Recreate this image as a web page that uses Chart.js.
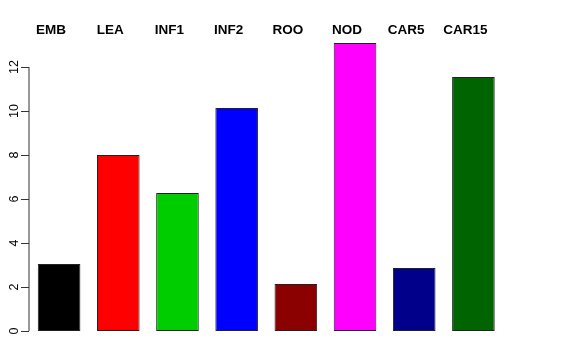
<!DOCTYPE html>
<html>
<head>
<meta charset="utf-8">
<script src="https://cdn.jsdelivr.net/npm/chart.js@4/dist/chart.umd.min.js"></script>
<style>
  html, body { margin: 0; padding: 0; background: #fff; }
  canvas { display: block; }
</style>
</head>
<body>
<canvas id="bars" width="576" height="360"></canvas>
<script>
const tissues = ['EMB', 'LEA', 'INF1', 'INF2', 'ROO', 'NOD', 'CAR5', 'CAR15'];
const values = [3.05, 8.0, 6.27, 10.14, 2.14, 13.09, 2.86, 11.55];
const barColors = ['#000000', '#ff0000', '#00cd00', '#0000ff', '#8b0000', '#ff00ff', '#00008b', '#006400'];
const yTicks = [0, 2, 4, 6, 8, 10, 12];

// R-style axis: line only from first to last tick, rotated labels
const rAxis = {
    id: 'rAxis',
    afterDraw(chart) {
        const ctx = chart.ctx;
        const y = chart.scales.y;
        const x0 = chart.chartArea.left - 0.5;
        ctx.save();
        ctx.strokeStyle = '#333';
        ctx.lineWidth = 1;
        ctx.beginPath();
        ctx.moveTo(x0, y.getPixelForValue(yTicks[0]));
        ctx.lineTo(x0, y.getPixelForValue(yTicks[yTicks.length - 1]));
        yTicks.forEach(t => {
            const py = Math.round(y.getPixelForValue(t)) + 0.5;
            ctx.moveTo(x0, py);
            ctx.lineTo(x0 - 8, py);
        });
        ctx.stroke();

        ctx.fillStyle = '#000';
        ctx.font = '12.5px "Liberation Sans", Arial, sans-serif';
        ctx.textAlign = 'center';
        ctx.textBaseline = 'middle';
        yTicks.forEach(t => {
            ctx.save();
            ctx.translate(15, y.getPixelForValue(t));
            ctx.rotate(-Math.PI / 2);
            ctx.fillText(String(t), 0, 0);
            ctx.restore();
        });

        // category names along the top
        const x = chart.scales.x;
        ctx.font = 'bold 13.5px "Liberation Sans", Arial, sans-serif';
        tissues.forEach((name, i) => {
            ctx.fillText(name, x.getPixelForValue(i) - 8, 30);
        });
        ctx.restore();
    }
};

new Chart(document.getElementById('bars'), {
    type: 'bar',
    data: {
        labels: tissues,
        datasets: [{
            data: values,
            backgroundColor: barColors,
            borderColor: '#222',
            borderWidth: 1,
            borderSkipped: false,
            barPercentage: 0.72,
            categoryPercentage: 1
        }]
    },
    options: {
        responsive: false,
        animation: false,
        layout: {
            padding: { left: 29.5, right: 73, top: 31.8, bottom: 29 }
        },
        plugins: {
            legend: { display: false },
            tooltip: { enabled: false }
        },
        scales: {
            x: {
                display: false
            },
            y: {
                display: false,
                min: 0,
                max: 13.6
            }
        }
    },
    plugins: [rAxis]
});
</script>
</body>
</html>
